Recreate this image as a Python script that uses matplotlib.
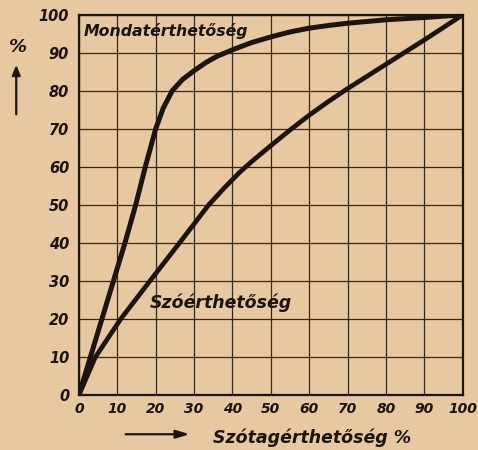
import matplotlib

matplotlib.use("Agg")
import matplotlib.pyplot as plt

# values (x = Szótagérthetőség %, y = %)
mondat_x = [0, 3, 6, 9, 12, 14.8, 17.3, 20, 22, 24.3, 27, 30, 33, 36, 40, 45, 50, 55, 60, 65, 70, 80, 90, 100]
mondat_y = [0, 10, 20, 30, 40, 50, 60, 70, 75.5, 80, 83, 85.3, 87.4, 89.1, 90.8, 92.7, 94.2, 95.5, 96.5, 97.2, 97.8, 98.7, 99.3, 100]

szo_x = [0, 4.3, 10.9, 18.5, 26.2, 33.8, 38, 41.9, 45, 50, 55, 60, 65, 70, 75, 80, 85, 90, 95, 100]
szo_y = [0, 10, 20, 30, 40, 50, 54.6, 58.6, 61.4, 65.6, 69.7, 73.6, 77.2, 80.6, 83.8, 87, 90.2, 93.4, 96.7, 100]

ticks = [0, 10, 20, 30, 40, 50, 60, 70, 80, 90, 100]

PAPER = "#e7c8a1"
INK = "#1c1410"
GRID = "#35271b"
FONT = dict(family="DejaVu Sans", style="italic", weight="bold", color=INK)

fig = plt.figure(figsize=(4.78, 4.5), dpi=100, facecolor=PAPER)
ax = fig.add_axes([0.165, 0.122, 0.803, 0.845], facecolor=PAPER)

ax.plot(mondat_x, mondat_y, color=INK, lw=3.6, solid_capstyle="round", solid_joinstyle="round", zorder=3)
ax.plot(szo_x, szo_y, color=INK, lw=3.4, solid_capstyle="round", solid_joinstyle="round", zorder=3)

ax.set_xlim(0, 100)
ax.set_ylim(0, 100)
ax.set_xticks(ticks)
ax.set_yticks(ticks)
ax.set_xticklabels([str(t) for t in ticks], fontdict=dict(size=10, **FONT))
ax.set_yticklabels([str(t) for t in ticks], fontdict=dict(size=10.5, **FONT))
ax.tick_params(length=0, pad=7)
ax.tick_params(axis="x", pad=5)
ax.grid(True, color=GRID, lw=0.9)
for spine in ax.spines.values():
    spine.set_color(INK)
    spine.set_linewidth(1.6)

ax.text(1.2, 95.8, "Mondatérthetőség", ha="left", va="center", size=11.3, **FONT)
ax.text(18.5, 24.3, "Szóérthetőség", ha="left", va="center", size=12.5, **FONT)

# axis captions with arrows, as on the original
fig.text(0.038, 0.895, "%", ha="center", va="center", size=13, **FONT)
fig.patches.append(matplotlib.patches.FancyArrowPatch(
    (0.034, 0.74), (0.034, 0.862), transform=fig.transFigure,
    arrowstyle="-|>,head_length=6,head_width=2.5", color=INK, lw=1.6))
fig.patches.append(matplotlib.patches.FancyArrowPatch(
    (0.257, 0.035), (0.402, 0.035), transform=fig.transFigure,
    arrowstyle="-|>,head_length=8,head_width=2.5", color=INK, lw=1.6))
fig.text(0.445, 0.028, "Szótagérthetőség %", ha="left", va="center", size=12.5, **FONT)

fig.savefig("out.png", dpi=100, facecolor=PAPER)
